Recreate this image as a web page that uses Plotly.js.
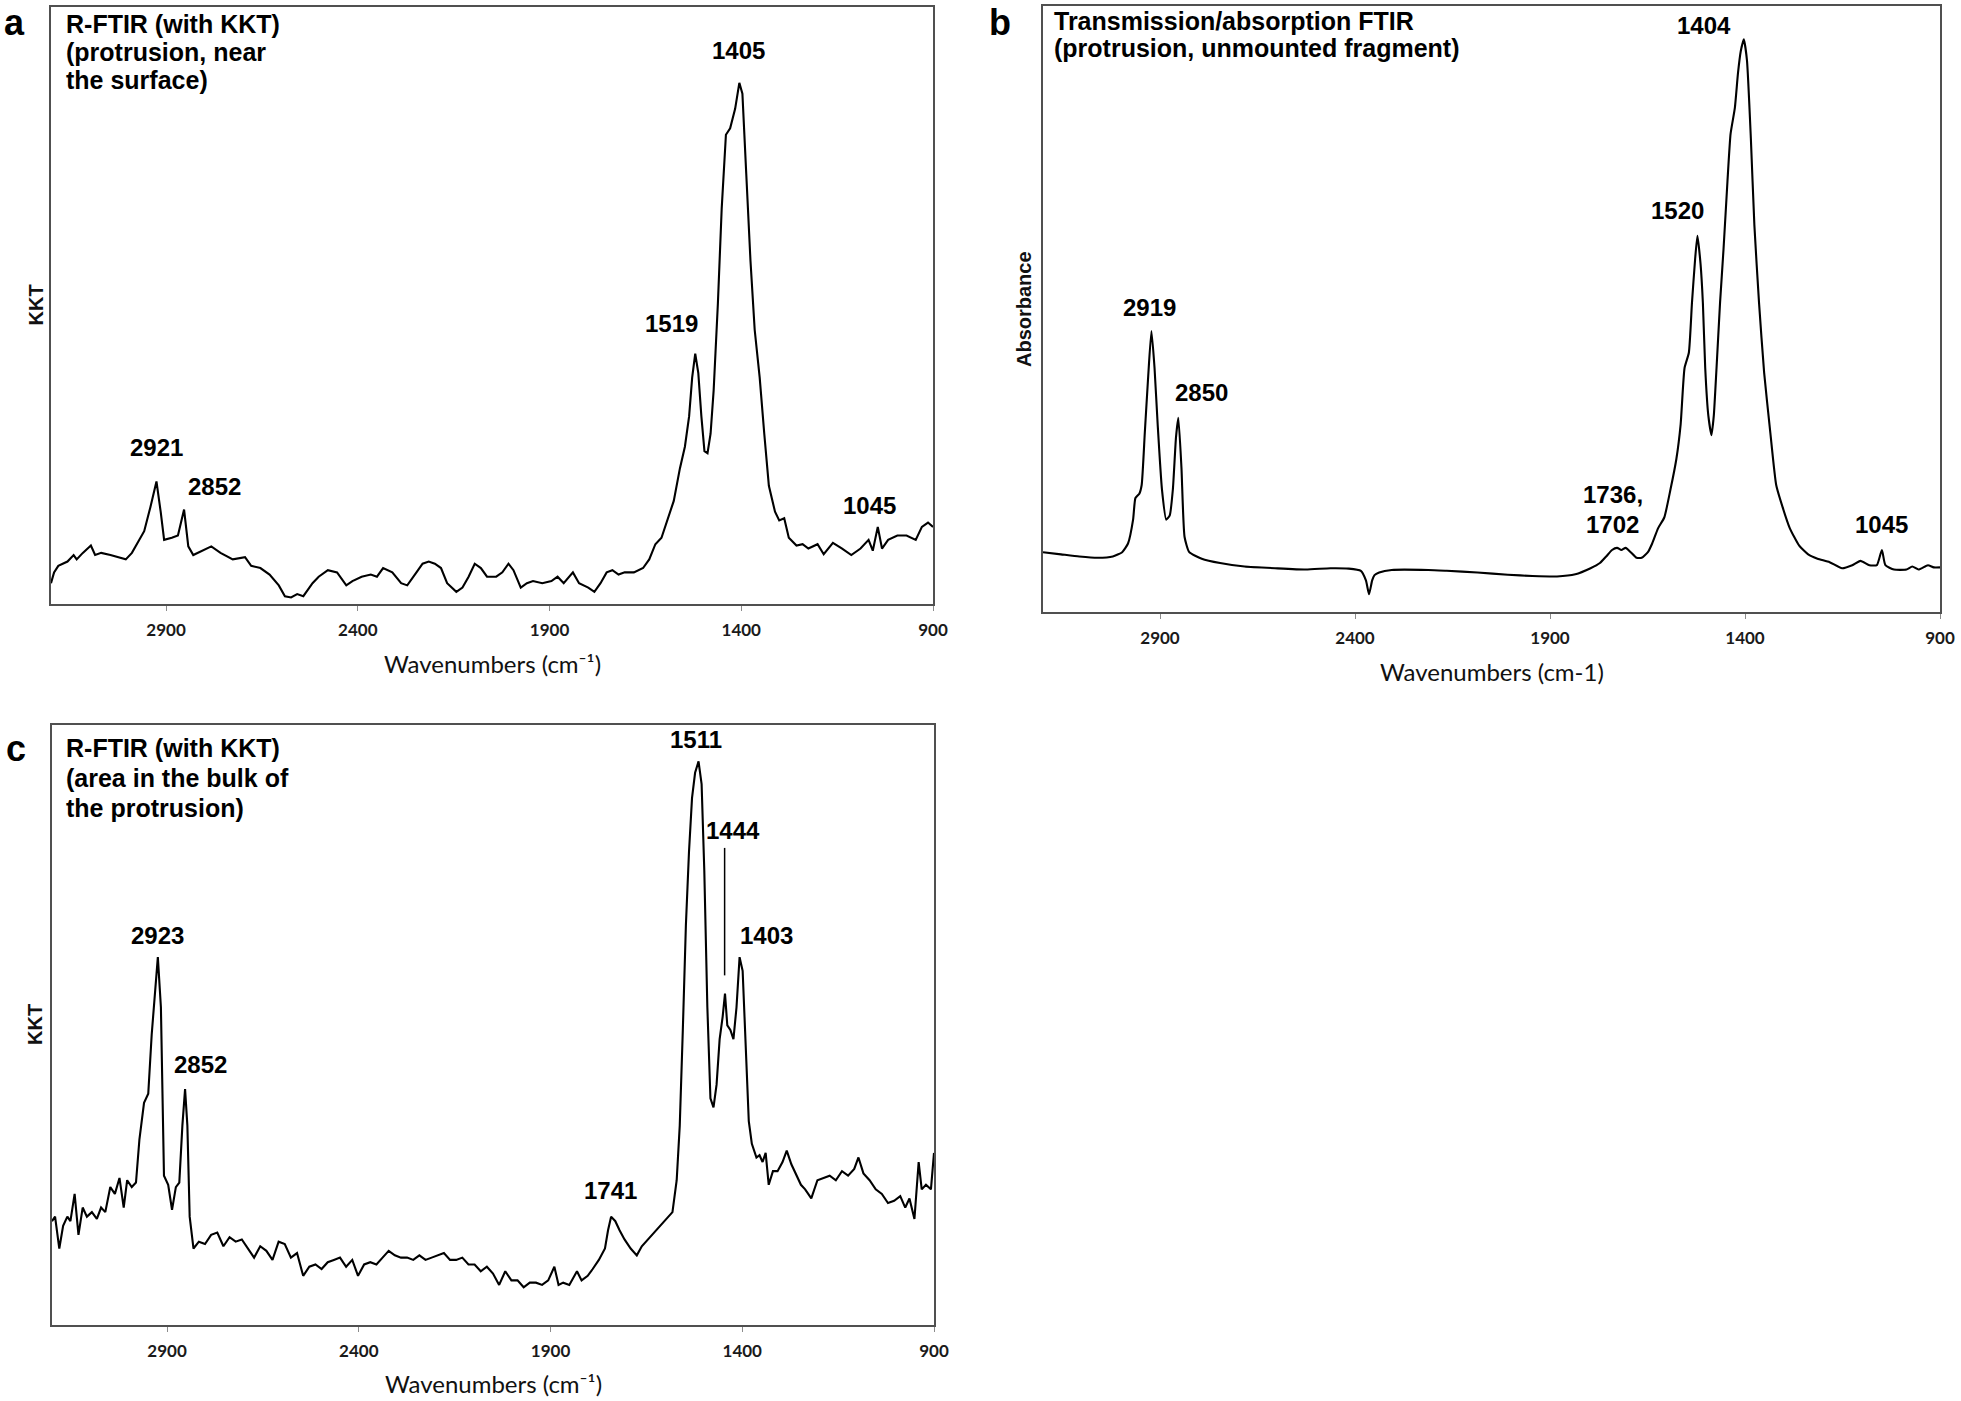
<!DOCTYPE html>
<html>
<head>
<meta charset="utf-8">
<script src="https://cdn.plot.ly/plotly-3.0.1.min.js"></script>
<style>html,body{margin:0;padding:0;background:#fff;}#chart{width:1961px;height:1401px;}</style>
</head>
<body>
<div id="chart"></div>
<script>
// ---------------- DATA ----------------
// x tick labels (wavenumbers, cm-1)
const tickValues = [2900, 2400, 1900, 1400, 900];
const tickLabels = ["2900", "2400", "1900", "1400", "900"];

// Panel a: R-FTIR (with KKT), protrusion near the surface
const wnA = [3200,3192,3181,3157,3141,3133,3117,3096,3085,3069,3045,3021,3005,2989,2973,2957,2941,2925,2914,2905,2885,2869,2853,2842,2829,2806,2782,2758,2726,2694,2678,2654,2630,2606,2590,2574,2558,2542,2518,2502,2478,2454,2430,2414,2390,2366,2350,2334,2310,2287,2271,2247,2231,2215,2199,2183,2167,2143,2127,2111,2095,2079,2063,2039,2023,2007,1994,1975,1959,1943,1919,1895,1879,1863,1839,1823,1799,1783,1767,1751,1736,1720,1704,1680,1656,1640,1624,1608,1592,1576,1560,1547,1536,1528,1520,1512,1504,1496,1488,1480,1472,1461,1451,1440,1429,1416,1405,1397,1387,1376,1365,1352,1340,1328,1312,1301,1288,1276,1256,1240,1225,1201,1185,1161,1137,1113,1089,1068,1057,1044,1033,1017,993,969,945,929,913,900];
const kktA = [4.8,7.3,8.8,9.8,11.3,10.3,11.8,13.5,11.3,11.8,11.3,10.8,10.3,11.8,14.3,16.8,22.3,28.3,21.3,14.8,15.3,15.8,21.8,13.3,11.3,12.3,13.3,11.8,10.3,10.8,8.8,8.3,6.8,4.3,1.8,1.5,2.3,1.8,4.8,6.3,7.8,7.3,4.3,5.3,6.3,6.8,6.3,8.3,7.3,4.8,4.3,7.3,9.3,9.8,9.3,8.3,4.8,2.8,3.8,6.3,9.3,8.3,6.3,6.3,7.3,9.3,7.8,3.8,4.8,5.3,4.8,5.3,6.3,4.8,7.3,4.8,3.8,2.8,4.8,7.3,7.8,6.8,7.3,7.3,8.3,10.3,13.8,15.3,19.3,23.8,31.3,36.3,43.3,52.3,57.8,53.3,43.3,35.3,34.8,39.3,49.3,69.3,91.3,108.3,109.8,114.3,120.3,117.8,99.3,79.3,63.3,52.3,39.3,27.3,21.3,19.3,19.8,15.3,13.5,13.8,12.8,13.8,11.5,14.1,12.8,11.3,12.8,14.8,12.3,17.8,12.8,14.8,15.8,15.8,14.8,17.8,18.8,17.8];
const yMaxA = 137.8;

// Panel b: transmission/absorption FTIR, unmounted fragment
const wnB = [3200,3154,3107,3060,3021,2997,2982,2969,2963,2953,2947,2939,2931,2922,2914,2906,2895,2884,2875,2867,2859,2853,2845,2837,2825,2793,2746,2683,2605,2526,2463,2416,2385,2372,2364,2356,2350,2338,2306,2212,2165,2086,2008,1945,1882,1835,1796,1772,1756,1741,1728,1717,1706,1693,1678,1665,1649,1638,1623,1607,1591,1576,1565,1555,1544,1536,1528,1522,1514,1508,1502,1494,1486,1480,1473,1464,1455,1445,1437,1426,1418,1411,1403,1395,1385,1376,1364,1351,1335,1320,1304,1285,1261,1238,1214,1183,1151,1125,1104,1081,1062,1049,1040,1018,986,971,955,931,916,900];
const absB = [13.8,13.3,12.8,12.5,12.8,13.8,15.8,21.3,26.3,27.3,29.3,41.3,53.3,64.8,56.3,43.3,28.3,21.3,22.3,28.3,40.3,44.8,33.3,17.3,13.8,12.3,11.3,10.5,10.1,9.8,10.1,10.0,9.5,7.3,4.1,7.3,8.5,9.1,9.7,9.7,9.5,9.1,8.6,8.3,8.2,8.7,10.1,11.3,12.8,14.3,14.8,14.3,14.8,13.8,12.5,12.5,13.8,15.8,19.3,21.8,28.3,35.3,43.3,56.3,59.8,71.3,81.3,86.8,80.3,71.3,56.3,45.3,40.8,45.3,56.3,71.3,83.8,99.3,110.3,116.3,124.3,129.3,132.1,127.3,109.3,89.3,71.3,55.3,41.3,29.3,24.3,19.3,15.3,13.3,12.3,11.5,10.1,10.8,11.8,10.8,10.8,14.3,10.8,9.8,9.8,10.5,9.8,10.8,10.3,10.3];
const yMaxB = 139.8;

// Panel c: R-FTIR (with KKT), area in the bulk of the protrusion
const wnC = [3200,3192,3181,3171,3160,3152,3141,3131,3120,3109,3096,3083,3072,3061,3048,3036,3024,3013,3004,2992,2981,2972,2960,2949,2940,2932,2924,2916,2908,2897,2887,2877,2868,2860,2853,2847,2841,2831,2817,2801,2785,2769,2753,2737,2721,2705,2689,2673,2657,2641,2625,2609,2593,2577,2561,2545,2529,2513,2497,2481,2465,2449,2433,2417,2402,2386,2370,2354,2338,2322,2306,2290,2274,2258,2242,2226,2210,2194,2178,2162,2146,2130,2114,2098,2082,2066,2050,2034,2018,2002,1986,1970,1954,1938,1922,1906,1890,1879,1867,1851,1831,1819,1803,1790,1774,1758,1750,1742,1731,1720,1707,1691,1675,1662,1646,1630,1614,1598,1582,1571,1563,1555,1547,1539,1531,1523,1514,1506,1499,1491,1483,1475,1467,1459,1451,1445,1439,1431,1423,1415,1407,1399,1391,1383,1375,1363,1355,1347,1339,1331,1320,1308,1295,1284,1272,1260,1247,1236,1220,1204,1188,1172,1156,1140,1124,1108,1097,1084,1068,1052,1036,1020,1004,988,975,964,951,940,932,921,908,900];
const kktC = [22.8,23.8,16.8,21.8,23.8,22.8,28.8,19.8,25.8,23.8,24.8,23.3,25.8,24.8,30.3,28.8,32.3,25.8,31.8,30.3,31.3,40.8,48.8,50.8,63.8,71.8,80.8,69.8,32.8,30.8,25.3,30.3,31.3,43.8,51.8,43.8,23.8,16.8,18.3,17.8,19.8,20.3,17.3,19.3,18.3,18.8,16.8,14.8,17.3,16.3,14.3,18.3,17.8,14.8,15.8,10.8,12.8,13.3,12.3,13.8,14.3,14.8,12.8,14.3,10.8,13.3,13.8,13.3,14.8,16.3,15.3,14.8,14.8,14.3,15.3,14.3,14.8,15.3,15.8,14.3,14.3,14.8,13.3,13.3,11.8,12.8,11.3,8.8,11.8,9.8,9.8,8.3,9.3,9.3,8.8,9.8,12.8,8.8,9.3,8.8,11.8,9.8,10.8,12.3,14.3,16.8,20.8,23.8,22.8,20.8,18.8,16.8,15.3,17.3,18.8,20.3,21.8,23.3,24.8,31.8,43.8,64.8,87.8,103.8,115.8,121.3,123.8,118.8,99.8,69.8,49.8,47.8,52.8,62.8,67.8,72.8,65.8,64.8,62.8,69.8,80.8,77.8,59.8,44.8,39.8,36.8,37.3,35.8,37.8,30.8,33.8,33.8,35.8,38.3,35.3,33.3,30.8,29.8,27.8,31.8,32.3,32.8,31.8,33.8,32.8,34.3,36.8,33.3,31.8,29.8,28.8,26.8,27.3,28.3,25.8,27.8,23.3,35.8,29.8,30.8,29.8,37.8];
const yMaxC = 131.8;

// Peak labels (text, wavenumber of label centre, baseline height)
const peakTextA = ["1405", "1519", "2921", "2852", "1045"];
const peakXA    = [1408, 1581, 2925, 2774, 1065];
const peakYA    = [125.3, 62.3, 33.8, 24.8, 20.3];

const peakTextB = ["1404", "1520", "2919", "2850", "1736,", "1702", "1045"];
const peakXB    = [1505, 1572, 2927, 2793, 1738, 1741, 1049];
const peakYB    = [132.8, 90.3, 67.8, 48.3, 24.7, 17.8, 17.8];

const peakTextC = ["1511", "1444", "1403", "2923", "2852", "1741"];
const peakXC    = [1520, 1424, 1336, 2925, 2812, 1744];
const peakYC    = [126.3, 106.3, 83.3, 83.3, 55.0, 27.3];

// marker line for the 1444 shoulder in panel c
const marker1444 = {wn: 1446, from: 76.8, to: 104.8};

// Panel headings
const headA = ["R-FTIR (with KKT)", "(protrusion, near", "the surface)"];
const headB = ["Transmission/absorption FTIR", "(protrusion, unmounted fragment)"];
const headC = ["R-FTIR (with KKT)", "(area in the bulk of", "the protrusion)"];
const panelLetters = ["a", "b", "c"];
const xTitles = ["Wavenumbers (cm\u207B\u00B9)", "Wavenumbers (cm-1)", "Wavenumbers (cm\u207B\u00B9)"];
const yTitles = ["KKT", "Absorbance", "KKT"];

// ---------------- LAYOUT ----------------
const W = 1961, H = 1401;
const px = v => v / W;
const py = v => 1 - v / H;

// plot boxes in pixels: [left, right, top, bottom]
const boxA = [51, 933, 7, 604];
const boxB = [1043, 1940, 6, 612];
const boxC = [52, 934, 725, 1325];

const ARIAL = "Liberation Sans, Arial, sans-serif";
const CAL = "Lato, Carlito, Calibri, sans-serif";

function xAxis(box, anchor) {
  return {
    domain: [px(box[0]), px(box[1])], anchor: anchor,
    range: [3200, 900], autorange: false,
    tickmode: "array", tickvals: tickValues, ticktext: tickLabels,
    ticks: "outside", ticklen: 5, tickwidth: 1, tickcolor: "#8c8c8c",
    ticklabelstandoff: 5,
    tickfont: {family: CAL, size: 17, color: "#1a1a1a", weight: "bold"},
    showline: true, mirror: true, linecolor: "#505050", linewidth: 1.6,
    showgrid: false, zeroline: false, fixedrange: true
  };
}
function yAxis(box, anchor, ymax) {
  return {
    domain: [py(box[3]), py(box[2])], anchor: anchor,
    range: [0, ymax], autorange: false,
    showticklabels: false, ticks: "",
    showline: true, mirror: true, linecolor: "#505050", linewidth: 1.6,
    showgrid: false, zeroline: false, fixedrange: true
  };
}

const lineStyle = {color: "#000000", width: 2.1};
const traces = [
  {x: wnA, y: kktA, xaxis: "x", yaxis: "y", type: "scatter", mode: "lines", line: lineStyle, hoverinfo: "skip"},
  {x: wnB, y: absB, xaxis: "x2", yaxis: "y2", type: "scatter", mode: "lines",
   line: {color: "#000000", width: 2.1, shape: "spline", smoothing: 0.5}, hoverinfo: "skip"},
  {x: wnC, y: kktC, xaxis: "x3", yaxis: "y3", type: "scatter", mode: "lines", line: lineStyle, hoverinfo: "skip"}
];

const annotations = [];
function peakLabels(texts, xs, ys, xr, yr) {
  texts.forEach((t, i) => annotations.push({
    text: t, x: xs[i], y: ys[i], xref: xr, yref: yr,
    xanchor: "center", yanchor: "bottom", yshift: -5,
    showarrow: false, font: {family: ARIAL, size: 24, color: "#000", weight: "bold"}
  }));
}
peakLabels(peakTextA, peakXA, peakYA, "x", "y");
peakLabels(peakTextB, peakXB, peakYB, "x2", "y2");
peakLabels(peakTextC, peakXC, peakYC, "x3", "y3");

function heading(lines, left, firstCenter, pitch) {
  lines.forEach((t, i) => annotations.push({
    text: t, x: px(left), y: py(firstCenter + i * pitch), xref: "paper", yref: "paper",
    xanchor: "left", yanchor: "middle", showarrow: false,
    font: {family: ARIAL, size: 25, color: "#000", weight: "bold"}
  }));
}
heading(headA, 64, 24, 28);
heading(headB, 1052, 21, 27);
heading(headC, 64, 748, 30);

// panel letters
[[3, 22], [988, 22], [5, 748]].forEach((p, i) => annotations.push({
  text: panelLetters[i], x: px(p[0]), y: py(p[1]), xref: "paper", yref: "paper",
  xanchor: "left", yanchor: "middle", showarrow: false, borderpad: 0,
  font: {family: ARIAL, size: 36, color: "#000", weight: "bold"}
}));

// axis titles
[[boxA, 663], [boxB, 671], [boxC, 1383]].forEach((b, i) => annotations.push({
  text: xTitles[i], x: px((b[0][0] + b[0][1]) / 2), y: py(b[1]), xref: "paper", yref: "paper",
  xanchor: "center", yanchor: "middle", showarrow: false,
  font: {family: CAL, size: 24, color: "#111"}
}));
[[boxA, 35], [boxB, 1024], [boxC, 35]].forEach((b, i) => annotations.push({
  text: yTitles[i], x: px(b[1]), y: py((b[0][2] + b[0][3]) / 2), xref: "paper", yref: "paper",
  xanchor: "center", yanchor: "middle", textangle: -90, showarrow: false,
  font: {family: ARIAL, size: 20, color: "#111", weight: "bold"}
}));

const shapes = [{
  type: "line", xref: "x3", yref: "y3",
  x0: marker1444.wn, x1: marker1444.wn, y0: marker1444.from, y1: marker1444.to,
  line: {color: "#000", width: 1.5}
}];

const layout = {
  width: W, height: H,
  margin: {l: 0, r: 0, t: 0, b: 0},
  paper_bgcolor: "#ffffff", plot_bgcolor: "#ffffff",
  showlegend: false,
  xaxis: xAxis(boxA, "y"), yaxis: yAxis(boxA, "x", yMaxA),
  xaxis2: xAxis(boxB, "y2"), yaxis2: yAxis(boxB, "x2", yMaxB),
  xaxis3: xAxis(boxC, "y3"), yaxis3: yAxis(boxC, "x3", yMaxC),
  annotations: annotations,
  shapes: shapes
};

Plotly.newPlot("chart", traces, layout, {staticPlot: true, displayModeBar: false});
</script>
</body>
</html>
